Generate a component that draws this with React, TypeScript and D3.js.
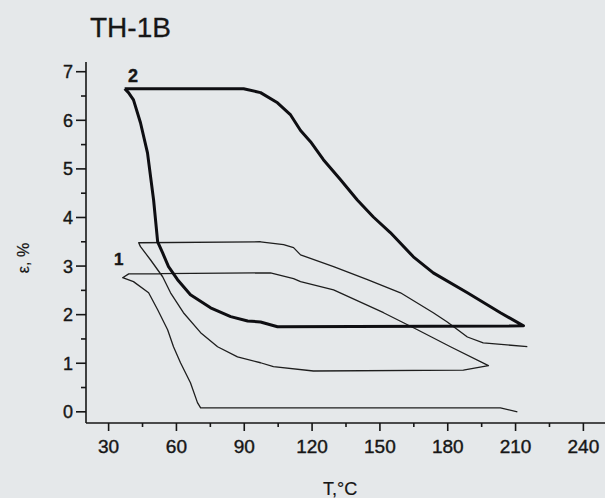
import { useEffect, useRef } from 'react';
import * as d3 from 'd3';

// curve 2 (thick loop)
const curve2T = [37.1, 89.7, 97.2, 104.7, 110.5, 114.9, 119.3, 125, 132.5, 140, 147.1, 154.6, 164.8, 173.6, 188.7, 203.3, 213.5,
  104.7, 97.2, 91.5, 84, 75.1, 66.2, 60.5, 56.5, 53.9, 51.7, 49.9, 47.2, 44.1, 41, 38.8, 37.1];
const curve2E = [6.65, 6.65, 6.57, 6.36, 6.11, 5.79, 5.56, 5.19, 4.78, 4.36, 4.01, 3.69, 3.19, 2.86, 2.45, 2.04, 1.77,
  1.75, 1.85, 1.87, 1.96, 2.14, 2.41, 2.72, 2.99, 3.27, 3.5, 4.36, 5.33, 5.95, 6.42, 6.57, 6.65];

// thin curves (1), one continuous trace
const curve1T = [215.2, 195.7, 188.7, 179.8, 173.6, 159.1, 144.5, 129.5, 114.9, 111.8, 107.4, 97.2, 43.3,
  44.1, 48.5, 53.9, 57.4, 63.1, 70.7, 78.2, 87, 97.2, 102.9, 120.6, 186.9, 198,
  181.2, 166.6, 151.6, 129.5, 114.9, 111.8, 101.6, 38.9,
  36.2, 41, 47.7, 51.7, 56.1, 58.7, 61.8, 66.2, 69.3, 70.7, 203.3, 210.8];
const curve1E = [1.34, 1.42, 1.54, 1.85, 2.04, 2.45, 2.72, 2.99, 3.23, 3.38, 3.44, 3.5, 3.48,
  3.4, 3.13, 2.78, 2.45, 2.04, 1.63, 1.34, 1.13, 1.01, 0.93, 0.84, 0.86, 0.95,
  1.34, 1.69, 2.04, 2.51, 2.68, 2.74, 2.86, 2.84,
  2.76, 2.68, 2.45, 2.1, 1.69, 1.34, 1.01, 0.6, 0.19, 0.08, 0.08, 0.0];

const xTicks = [30, 60, 90, 120, 150, 180, 210, 240];
const xMinor = [45, 75, 105, 135, 165, 195, 225];
const yTicks = [0, 1, 2, 3, 4, 5, 6, 7];
const yMinor = [0.5, 1.5, 2.5, 3.5, 4.5, 5.5, 6.5];

const W = 605;
const H = 498;

const App = () => {
  const svgRef = useRef<SVGSVGElement>(null);

  useEffect(() => {
    const svg = d3.select(svgRef.current);
    svg.selectAll('*').remove();

    const x = d3.scaleLinear().domain([20, 250]).range([86, 606]);
    const y = d3.scaleLinear().domain([-0.23, 7.2]).range([423, 62]);

    svg.append('rect').attr('width', W).attr('height', H).attr('fill', '#e5e8ea');

    const ink = '#161616';

    // axes
    const ax = svg.append('g').attr('stroke', ink).attr('stroke-width', 1.6);
    ax.append('line').attr('x1', x(20)).attr('x2', x(20)).attr('y1', y(7.2)).attr('y2', y(-0.23));
    ax.append('line').attr('x1', x(20)).attr('x2', W).attr('y1', y(-0.23)).attr('y2', y(-0.23));

    ax.selectAll('.yt').data(yTicks).join('line')
      .attr('x1', x(20) - 10).attr('x2', x(20)).attr('y1', d => y(d)).attr('y2', d => y(d));
    ax.selectAll('.ym').data(yMinor).join('line')
      .attr('x1', x(20) - 5).attr('x2', x(20)).attr('y1', d => y(d)).attr('y2', d => y(d));
    ax.selectAll('.xt').data(xTicks).join('line')
      .attr('x1', d => x(d)).attr('x2', d => x(d)).attr('y1', y(-0.23)).attr('y2', y(-0.23) + 8);
    ax.selectAll('.xm').data(xMinor).join('line')
      .attr('x1', d => x(d)).attr('x2', d => x(d)).attr('y1', y(-0.23)).attr('y2', y(-0.23) + 4);

    const lbl = svg.append('g')
      .attr('font-family', '"Liberation Sans", Arial, sans-serif')
      .attr('fill', ink)
      .attr('stroke', ink)
      .attr('stroke-width', 0.4);

    lbl.selectAll('.yl').data(yTicks).join('text')
      .attr('x', x(20) - 13).attr('y', d => y(d) + 6.5)
      .attr('text-anchor', 'end').attr('font-size', 18)
      .text(d => d);
    lbl.selectAll('.xl').data(xTicks).join('text')
      .attr('x', d => x(d)).attr('y', 453)
      .attr('text-anchor', 'middle').attr('font-size', 19)
      .text(d => d);

    lbl.append('text').attr('x', 90).attr('y', 37).attr('font-size', 28).attr('stroke-width', 0.3).text('TH-1B');
    lbl.append('text').attr('x', 323).attr('y', 495).attr('font-size', 18).attr('stroke-width', 0.2).text('T,°C');
    lbl.append('text')
      .attr('transform', 'translate(29,258) rotate(-90)')
      .attr('text-anchor', 'middle').attr('font-size', 16).attr('stroke-width', 0.2)
      .text('ε, %');
    lbl.append('text').attr('x', 128).attr('y', 82).attr('font-size', 18).attr('font-weight', 'bold').text('2');
    lbl.append('text').attr('x', 114).attr('y', 265).attr('font-size', 17).attr('font-weight', 'bold').text('1');

    const line = d3.line<number[]>()
      .x(d => x(d[0]))
      .y(d => y(d[1]));

    const pts1 = curve1T.map((t, i) => [t, curve1E[i]]);
    const pts2 = curve2T.map((t, i) => [t, curve2E[i]]);

    svg.append('path')
      .attr('d', line(pts1))
      .attr('fill', 'none')
      .attr('stroke', '#1e1e1e')
      .attr('stroke-width', 1.3)
      .attr('stroke-linejoin', 'round');

    svg.append('path')
      .attr('d', line(pts2))
      .attr('fill', 'none')
      .attr('stroke', '#0e0e12')
      .attr('stroke-width', 3)
      .attr('stroke-linejoin', 'round');
  }, []);

  return (
    <svg ref={svgRef} width={W} height={H} style={{ position: 'absolute', left: 0, top: 0 }} />
  );
};

export default App;
